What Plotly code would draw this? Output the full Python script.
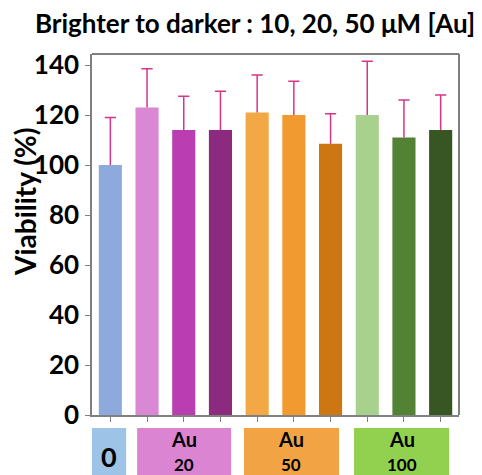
import plotly.graph_objects as go

categories = ["0", "Au20-10", "Au20-20", "Au20-50", "Au50-10", "Au50-20", "Au50-50",
              "Au100-10", "Au100-20", "Au100-50"]
viability = [100, 123, 114, 114, 121, 120, 108.5, 120, 111, 114]
err_plus = [19, 15.5, 13.5, 15.5, 15, 13.5, 12, 21.5, 15, 14]
bar_colors = ["#8EA9DB", "#DA88D4", "#BB3DB2", "#8B2A7F", "#F2A945", "#F09A30",
              "#CC7712", "#A9D18E", "#548235", "#375623"]
y_ticks = [0, 20, 40, 60, 80, 100, 120, 140]

group_top = ["", "Au", "Au", "Au"]
group_bottom = ["0", "20", "50", "100"]
group_spans = [(-0.53, 0.43), (0.73, 3.29), (3.64, 6.23), (6.64, 9.23)]
group_colors = ["#9DC3E6", "#DA84D2", "#F2A444", "#92D050"]

FONT = "Lato"
ERR_COLOR = "#D6338A"
x_idx = list(range(len(categories)))

# page body has an 8px margin; work in reference pixels and shift
OFF = 8
W, H = 482 - OFF, 475 - OFF
PLOT_TOP, PLOT_BOT, PLOT_L, PLOT_R = 54 - OFF, 415 - OFF, 92 - OFF, 459 - OFF
PH = PLOT_BOT - PLOT_TOP
PW = PLOT_R - PLOT_L


def py(ypx_ref):
    return (PLOT_BOT - (ypx_ref - OFF)) / PH


def px(xpx_ref):
    return ((xpx_ref - OFF) - PLOT_L) / PW


fig = go.Figure()
fig.add_trace(go.Bar(
    x=x_idx, y=viability, width=0.63,
    marker=dict(color=bar_colors, line=dict(width=0)),
    hoverinfo="skip",
))

# upward-only error bars (stem + top cap)
ex, ey = [], []
for i, v, e in zip(x_idx, viability, err_plus):
    ex += [i, i, None]
    ey += [v, v + e, None]
fig.add_trace(go.Scatter(x=ex, y=ey, mode="lines",
                         line=dict(color=ERR_COLOR, width=1.5), hoverinfo="skip"))
fig.add_trace(go.Scatter(x=x_idx, y=[v + e for v, e in zip(viability, err_plus)],
                         mode="markers",
                         marker=dict(symbol="line-ew", size=8,
                                     line=dict(color=ERR_COLOR, width=1.5)),
                         hoverinfo="skip"))

shapes = []
annotations = []
for (x0, x1), col, top, bot in zip(group_spans, group_colors, group_top, group_bottom):
    shapes.append(dict(type="rect", xref="x", yref="paper", x0=x0, x1=x1,
                       y0=py(480), y1=py(428), fillcolor=col, line=dict(width=0), layer="above"))
    if top == "":
        annotations.append(dict(x=(x0 + x1) / 2, y=py(456), xref="x", yref="paper",
                                text=bot, showarrow=False,
                                font=dict(family=FONT, size=27, color="black", weight="bold"),
                                xanchor="center", yanchor="middle"))
    else:
        annotations.append(dict(x=(x0 + x1) / 2, y=py(439), xref="x", yref="paper",
                                text=top, showarrow=False,
                                font=dict(family=FONT, size=20, color="black", weight="bold"),
                                xanchor="center", yanchor="middle"))
        annotations.append(dict(x=(x0 + x1) / 2, y=py(464), xref="x", yref="paper",
                                text=bot, showarrow=False,
                                font=dict(family=FONT, size=17, color="black", weight="bold"),
                                xanchor="center", yanchor="middle"))

# frame lines
shapes.append(dict(type="line", xref="paper", yref="paper", x0=0, x1=1, y0=1, y1=1,
                   line=dict(color="black", width=1.2)))
shapes.append(dict(type="line", xref="paper", yref="paper", x0=1, x1=1, y0=0, y1=1,
                   line=dict(color="#808080", width=2)))

annotations.append(dict(x=px(25), y=py(202), xref="paper", yref="paper",
                        text="Viability (%)", showarrow=False, textangle=-90,
                        xanchor="center", yanchor="middle",
                        font=dict(family=FONT, size=28, color="black", weight="bold")))

fig.update_layout(
    width=W, height=H,
    margin=dict(l=PLOT_L, r=W - PLOT_R, t=PLOT_TOP, b=H - PLOT_BOT),
    paper_bgcolor="white", plot_bgcolor="white",
    showlegend=False,
    title=dict(text="Brighter to darker : 10, 20, 50 μM [Au]",
               x=(255 - OFF) / W, xanchor="center", y=1 - (24 - OFF) / H, yanchor="middle",
               font=dict(family=FONT, size=26, color="black", weight="bold")),
    xaxis=dict(range=[-0.5, 9.5], tickvals=x_idx, ticktext=[""] * len(x_idx),
               showgrid=False, zeroline=False, showline=True, linecolor="#808080",
               linewidth=1.5, ticks="outside", ticklen=5, tickcolor="#808080"),
    yaxis=dict(range=[0, 144.4], tickvals=y_ticks, showgrid=False, zeroline=False,
               showline=True, linecolor="#808080", linewidth=1.5, ticks="outside",
               ticklen=5, tickcolor="#808080",
               tickfont=dict(family=FONT, size=26, color="black", weight="bold"),
               ticklabelstandoff=1),
    shapes=shapes,
    annotations=annotations,
)

fig.write_html("out.html")
